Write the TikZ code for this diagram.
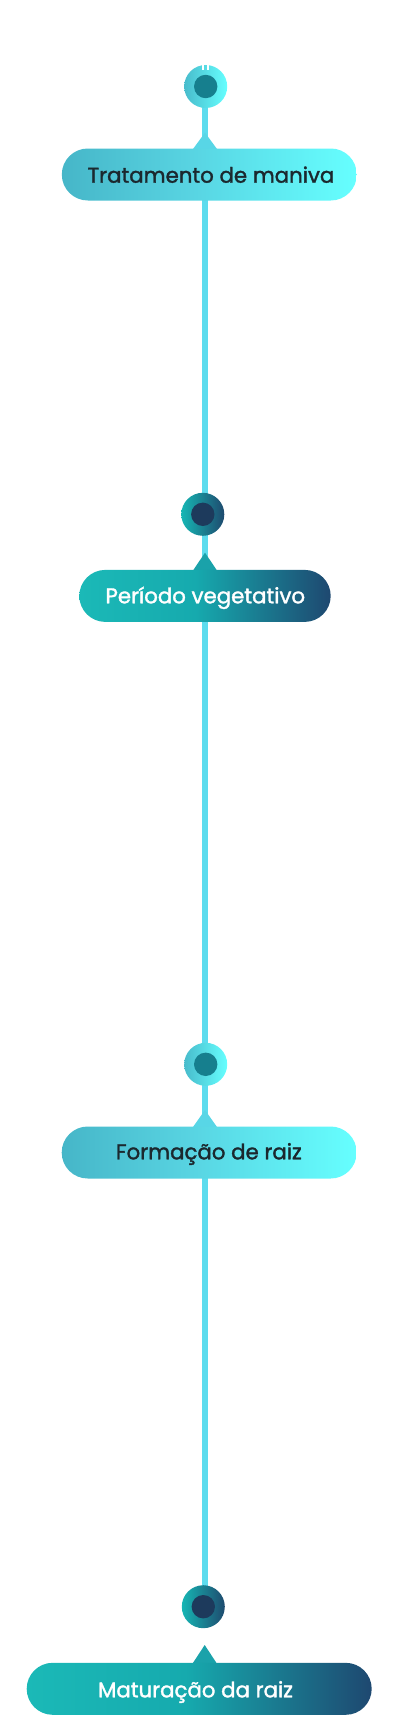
\documentclass[tikz,border=0pt]{standalone}
\usepackage{fontspec}
\setmainfont{Poppins}
\newfontfamily\labfont{Poppins}[FakeBold=1.6]
\usetikzlibrary{backgrounds}
\definecolor{lineC}{RGB}{93,220,238}
\definecolor{lA}{RGB}{70,182,200}
\definecolor{lB}{RGB}{88,212,226}
\definecolor{lC}{RGB}{102,255,255}
\definecolor{dA}{RGB}{27,185,183}
\definecolor{dB}{RGB}{22,170,174}
\definecolor{dC}{RGB}{30,72,112}
\definecolor{cLA}{RGB}{72,188,204}
\definecolor{cLB}{RGB}{102,255,255}
\definecolor{cLin}{RGB}{22,127,142}
\definecolor{cDA}{RGB}{22,182,180}
\definecolor{cDB}{RGB}{30,74,110}
\definecolor{cDin}{RGB}{29,58,92}
\definecolor{triL}{RGB}{88,214,230}
\definecolor{triD}{RGB}{26,162,170}
\definecolor{txtD}{RGB}{27,40,46}
\pgfdeclarehorizontalshading{lightbox}{100bp}{color(0bp)=(lA); color(25bp)=(lA); color(47bp)=(lB); color(75bp)=(lC); color(100bp)=(lC)}
\pgfdeclarehorizontalshading{darkbox}{100bp}{color(0bp)=(dA); color(25bp)=(dA); color(48bp)=(dB); color(75bp)=(dC); color(100bp)=(dC)}
\pgfdeclarehorizontalshading{lightcirc}{100bp}{color(0bp)=(cLA); color(25bp)=(cLA); color(75bp)=(cLB); color(100bp)=(cLB)}
\pgfdeclarehorizontalshading{darkcirc}{100bp}{color(0bp)=(cDA); color(25bp)=(cDA); color(75bp)=(cDB); color(100bp)=(cDB)}
\tikzset{
  outerL/.style={circle, inner sep=0pt, minimum size=43pt, shade, shading=lightcirc},
  outerD/.style={circle, inner sep=0pt, minimum size=43pt, shade, shading=darkcirc},
  innerL/.style={circle, inner sep=0pt, minimum size=23.4pt, fill=cLin},
  innerD/.style={circle, inner sep=0pt, minimum size=23.4pt, fill=cDin},
  boxL/.style={rectangle, inner sep=0pt, rounded corners=26pt, minimum height=52pt, shade, shading=lightbox},
  boxD/.style={rectangle, inner sep=0pt, rounded corners=26pt, minimum height=52pt, shade, shading=darkbox},
  label/.style={anchor=base, inner sep=0pt, font=\labfont\fontsize{21.3}{24}\selectfont},
  spine/.style={draw=lineC, line width=6pt},
}
\begin{document}
\begin{tikzpicture}[x=1pt,y=-1pt]
\useasboundingbox (0,0) rectangle (400,1726);
% stage 1
\node[outerL] (c1) at (205.7,86.5) {};
\node[innerL] (i1) at (c1.center) {};
\fill[white] (201.7,63) rectangle (204.3,70.5);
\fill[white] (206.7,63) rectangle (209.3,70.5);
\fill[triL] (205,132.7) -- (217,149) -- (193,149) -- cycle;
\node[boxL, minimum width=295pt] (b1) at (209.3,174.5) {};
\node[label, text=txtD] (t1) at (211,182.7) {Tratamento de maniva};
% stage 2
\node[outerD] (c2) at (202.8,514.3) {};
\node[innerD] (i2) at (c2.center) {};
\fill[triD] (205,552.7) -- (217,570.5) -- (193,570.5) -- cycle;
\node[boxD, minimum width=251.4pt] (b2) at (205,595.9) {};
\node[label, text=white] (t2) at (205.3,603.3) {Período vegetativo};
% stage 3
\node[outerL] (c3) at (205.7,1064.3) {};
\node[innerL] (i3) at (c3.center) {};
\fill[triL] (205,1110) -- (217,1127) -- (193,1127) -- cycle;
\node[boxL, minimum width=295pt] (b3) at (209.2,1152.5) {};
\node[label, text=txtD] (t3) at (208.8,1159.3) {Formação de raiz};
% stage 4
\node[outerD] (c4) at (203.3,1606.7) {};
\node[innerD] (i4) at (c4.center) {};
\fill[triD] (204.7,1645) -- (216.5,1663) -- (192.9,1663) -- cycle;
\node[boxD, minimum width=345pt] (b4) at (199.2,1688.8) {};
\node[label, text=white] (t4) at (195.5,1697.3) {Maturação da raiz};
% spine
\coordinate (s1) at (205,100);
\coordinate (s4) at (205,1592);
\begin{scope}[on background layer]
\draw[spine] (s1) -- (s4);
\end{scope}
\end{tikzpicture}
\end{document}
